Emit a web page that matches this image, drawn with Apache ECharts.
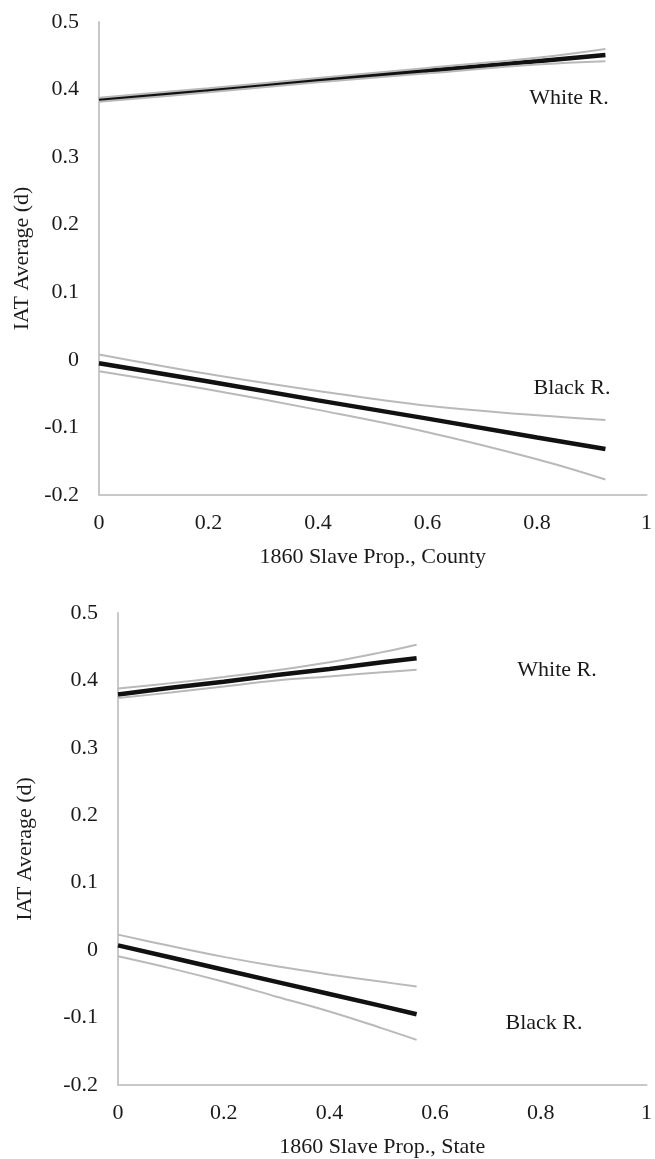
<!doctype html>
<html lang="en">
<head>
    <meta charset="UTF-8">
    <title>IAT Average vs 1860 Slave Proportion</title>
    <script src="https://cdn.jsdelivr.net/npm/echarts@6/dist/echarts.min.js"></script>
    <style>
        html, body { margin: 0; padding: 0; background: #fff; }
    </style>
</head>
<body>
<div id="main" style="width: 655px;height:1159px;"></div>
<script type="text/javascript">

    // county panel (top)
    var countyX = [0, 0.2, 0.4, 0.6, 0.8, 0.925];
    var countyWhiteFit = [0.385, 0.399, 0.414, 0.428, 0.442, 0.451];
    var countyWhiteUpper = [0.388, 0.402, 0.417, 0.432, 0.447, 0.460];
    var countyWhiteLower = [0.382, 0.396, 0.411, 0.424, 0.437, 0.442];
    var countyBlackFit = [-0.005, -0.032, -0.060, -0.087, -0.115, -0.132];
    var countyBlackUpper = [0.008, -0.021, -0.046, -0.068, -0.082, -0.089];
    var countyBlackLower = [-0.017, -0.044, -0.074, -0.107, -0.147, -0.177];

    // state panel (bottom)
    var stateX = [0, 0.1, 0.2, 0.3, 0.4, 0.5, 0.565];
    var stateWhiteFit = [0.379, 0.389, 0.398, 0.408, 0.417, 0.427, 0.433];
    var stateWhiteUpper = [0.388, 0.396, 0.405, 0.415, 0.427, 0.442, 0.453];
    var stateWhiteLower = [0.374, 0.382, 0.391, 0.400, 0.406, 0.412, 0.416];
    var stateBlackFit = [0.007, -0.011, -0.029, -0.047, -0.065, -0.083, -0.095];
    var stateBlackUpper = [0.023, 0.006, -0.010, -0.024, -0.036, -0.047, -0.054];
    var stateBlackLower = [-0.009, -0.027, -0.047, -0.069, -0.091, -0.116, -0.133];

    var xTitles = ['1860 Slave Prop., County', '1860 Slave Prop., State'];
    var yTitle = 'IAT Average (d)';
    var yTitleGap = [63, 82];

    var FONT = '"Liberation Serif", "Times New Roman", serif';
    var TEXT = '#1a1a1a';
    var GREY = '#b9b9b9';
    var BLACK = '#111111';

    function pairs(xs, ys) {
        return xs.map(function (x, i) { return [x, ys[i]]; });
    }

    // grey bounds sit on top of the fit line, like the original
    function line(idx, xs, ys, main) {
        return {
            type: 'line',
            xAxisIndex: idx,
            yAxisIndex: idx,
            data: pairs(xs, ys),
            symbol: 'none',
            smooth: main ? false : 0.4,
            z: main ? 2 : 3,
            silent: true,
            lineStyle: {
                color: main ? BLACK : GREY,
                width: main ? 4.5 : 2
            }
        };
    }

    function xAxis(idx) {
        return {
            type: 'value',
            gridIndex: idx,
            min: 0,
            max: 1,
            interval: 0.2,
            name: xTitles[idx],
            nameLocation: 'middle',
            nameGap: 51,
            nameTextStyle: { fontFamily: FONT, fontSize: 22, color: TEXT },
            axisLine: { onZero: false, lineStyle: { color: '#c8c8c8', width: 2 } },
            axisTick: { show: false },
            splitLine: { show: false },
            axisLabel: { margin: 17, fontFamily: FONT, fontSize: 22, color: TEXT }
        };
    }

    function yAxis(idx) {
        return {
            type: 'value',
            gridIndex: idx,
            min: -0.2,
            max: 0.5,
            interval: 0.1,
            name: yTitle,
            nameLocation: 'middle',
            nameGap: yTitleGap[idx],
            nameTextStyle: { fontFamily: FONT, fontSize: 22, color: TEXT },
            axisLine: { show: true, onZero: false, lineStyle: { color: '#c8c8c8', width: 2 } },
            axisTick: { show: false },
            splitLine: { show: false },
            axisLabel: { margin: 20, fontFamily: FONT, fontSize: 22, color: TEXT }
        };
    }

    function tag(text, x, y) {
        return {
            type: 'text',
            x: x,
            y: y,
            style: {
                text: text,
                font: '22px ' + FONT,
                fill: TEXT,
                align: 'center',
                verticalAlign: 'middle'
            }
        };
    }

    var chart = echarts.init(document.getElementById('main'));

    var option = {
        animation: false,
        backgroundColor: '#fff',
        grid: [
            { left: 99, top: 22, width: 548, height: 473 },
            { left: 118, top: 613, width: 536, height: 473 }
        ],
        xAxis: [xAxis(0), xAxis(1)],
        yAxis: [yAxis(0), yAxis(1)],
        graphic: [
            tag('White R.', 569, 98),
            tag('Black R.', 572, 388),
            tag('White R.', 557, 670),
            tag('Black R.', 544, 1023)
        ],
        series: [
            line(0, countyX, countyWhiteFit, true),
            line(0, countyX, countyWhiteUpper, false),
            line(0, countyX, countyWhiteLower, false),
            line(0, countyX, countyBlackFit, true),
            line(0, countyX, countyBlackUpper, false),
            line(0, countyX, countyBlackLower, false),
            line(1, stateX, stateWhiteFit, true),
            line(1, stateX, stateWhiteUpper, false),
            line(1, stateX, stateWhiteLower, false),
            line(1, stateX, stateBlackFit, true),
            line(1, stateX, stateBlackUpper, false),
            line(1, stateX, stateBlackLower, false)
        ]
    };

    chart.setOption(option);

</script>
</body>
</html>
